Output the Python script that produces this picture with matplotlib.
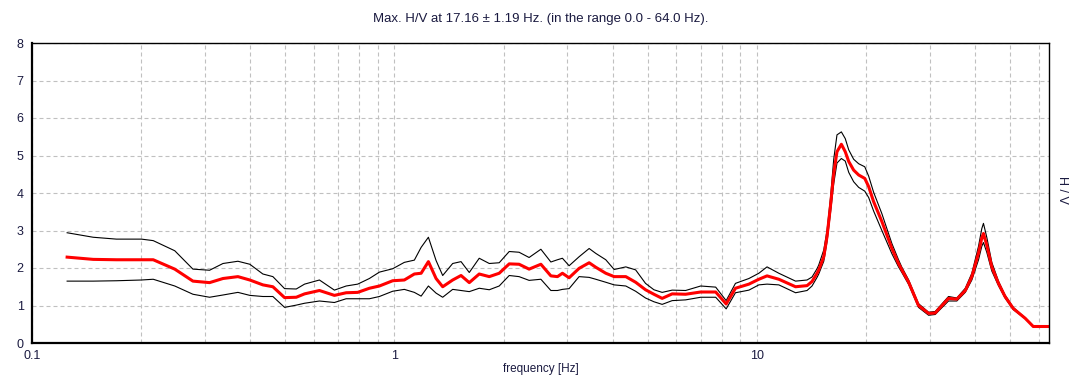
import numpy as np
import matplotlib.pyplot as plt
from matplotlib.ticker import LogLocator, NullFormatter, FixedLocator

# frequency [Hz]
freq = [0.125, 0.1475, 0.171, 0.2005, 0.216, 0.2477, 0.278, 0.309, 0.3365, 0.370,
        0.399, 0.4335, 0.462, 0.4977, 0.536, 0.565, 0.621, 0.683, 0.736, 0.792,
        0.853, 0.909, 0.989, 1.065, 1.135, 1.185, 1.241, 1.303, 1.359, 1.448,
        1.527, 1.609, 1.714, 1.827, 1.946, 2.074, 2.208, 2.353, 2.536, 2.702,
        2.818, 2.908, 3.034, 3.233, 3.446, 3.594, 3.83, 4.04, 4.35, 4.63,
        4.93, 5.20, 5.48, 5.84, 6.36, 7.00, 7.70, 8.23, 8.73, 9.51,
        10.13, 10.67, 11.5, 12.79, 13.76, 14.2, 14.66, 14.82, 15.30, 15.62,
        15.96, 16.30, 16.64, 17.11, 17.54, 17.93, 18.5, 19.10, 19.85, 20.35,
        21.0, 22.13, 23.59, 24.6, 25.13, 26.24, 27.93, 29.78, 31.05, 33.8,
        35.63, 37.6, 39.2, 40.9, 41.76, 42.2, 43.1, 44.5, 46.42, 48.4,
        51.0, 55.0, 57.9, 64.0]

# average H/V
hv_mean = [2.29, 2.23, 2.22, 2.22, 2.22, 1.97, 1.65, 1.61, 1.72, 1.77,
           1.68, 1.55, 1.50, 1.21, 1.22, 1.31, 1.40, 1.27, 1.34, 1.35,
           1.46, 1.52, 1.66, 1.68, 1.84, 1.86, 2.17, 1.72, 1.50, 1.68,
           1.80, 1.61, 1.84, 1.77, 1.86, 2.11, 2.10, 1.97, 2.10, 1.79,
           1.77, 1.86, 1.74, 1.99, 2.14, 2.02, 1.86, 1.77, 1.77, 1.62,
           1.42, 1.30, 1.19, 1.31, 1.30, 1.36, 1.36, 1.04, 1.46, 1.57,
           1.70, 1.79, 1.70, 1.50, 1.53, 1.64, 1.86, 1.95, 2.30, 2.84,
           3.64, 4.52, 5.10, 5.30, 5.10, 4.84, 4.61, 4.48, 4.39, 4.17,
           3.77, 3.24, 2.52, 2.12, 1.95, 1.62, 1.00, 0.79, 0.80, 1.19,
           1.17, 1.40, 1.77, 2.40, 2.80, 2.92, 2.61, 2.03, 1.59, 1.24,
           0.92, 0.66, 0.44, 0.44]

# upper / lower standard deviation curves
hv_upper = [2.94, 2.82, 2.77, 2.77, 2.73, 2.46, 1.97, 1.94, 2.12, 2.18,
            2.10, 1.84, 1.77, 1.45, 1.44, 1.57, 1.68, 1.41, 1.52, 1.57,
            1.72, 1.89, 1.98, 2.15, 2.21, 2.55, 2.82, 2.20, 1.80, 2.12,
            2.17, 1.88, 2.26, 2.12, 2.14, 2.44, 2.42, 2.28, 2.50, 2.16,
            2.22, 2.26, 2.06, 2.30, 2.52, 2.39, 2.22, 1.96, 2.03, 1.95,
            1.59, 1.42, 1.35, 1.41, 1.40, 1.52, 1.49, 1.13, 1.59, 1.72,
            1.86, 2.03, 1.86, 1.65, 1.68, 1.76, 1.98, 2.08, 2.48, 3.00,
            3.85, 4.90, 5.55, 5.63, 5.45, 5.15, 4.90, 4.78, 4.70, 4.45,
            4.02, 3.45, 2.65, 2.22, 2.02, 1.68, 1.05, 0.82, 0.84, 1.24,
            1.20, 1.46, 1.86, 2.58, 3.05, 3.19, 2.82, 2.15, 1.65, 1.28,
            0.95, 0.67, 0.44, 0.44]

hv_lower = [1.65, 1.65, 1.66, 1.68, 1.70, 1.52, 1.30, 1.22, 1.28, 1.35,
            1.27, 1.24, 1.24, 0.95, 1.01, 1.06, 1.12, 1.08, 1.18, 1.18,
            1.18, 1.24, 1.38, 1.43, 1.35, 1.25, 1.52, 1.33, 1.22, 1.43,
            1.40, 1.37, 1.46, 1.42, 1.52, 1.80, 1.77, 1.67, 1.70, 1.40,
            1.40, 1.43, 1.45, 1.77, 1.75, 1.70, 1.62, 1.55, 1.52, 1.38,
            1.20, 1.10, 1.03, 1.13, 1.15, 1.22, 1.22, 0.91, 1.34, 1.41,
            1.55, 1.57, 1.55, 1.34, 1.40, 1.52, 1.75, 1.84, 2.18, 2.70,
            3.45, 4.25, 4.80, 4.92, 4.85, 4.55, 4.30, 4.15, 4.05, 3.88,
            3.52, 3.00, 2.38, 2.03, 1.88, 1.56, 0.95, 0.74, 0.76, 1.12,
            1.12, 1.35, 1.68, 2.22, 2.58, 2.68, 2.42, 1.92, 1.53, 1.20,
            0.89, 0.65, 0.44, 0.44]

plt.rcParams['font.family'] = ['Liberation Sans', 'DejaVu Sans']

fig = plt.figure(figsize=(10.81, 3.87), dpi=100)
ax = fig.add_axes([32 / 1081, 44 / 387, 1017 / 1081, 300 / 387])

ax.plot(freq, hv_upper, color='black', linewidth=0.8)
ax.plot(freq, hv_lower, color='black', linewidth=0.8)
ax.plot(freq, hv_mean, color='red', linewidth=2.2)

ax.set_xscale('log')
ax.set_xlim(0.1, 64)
ax.set_ylim(0, 8)
ax.xaxis.set_major_locator(FixedLocator([0.1, 1, 10]))
ax.set_xticklabels(['0.1', '1', '10'])
ax.xaxis.set_minor_locator(LogLocator(base=10, subs=np.arange(2, 10)))
ax.xaxis.set_minor_formatter(NullFormatter())
ax.set_yticks(range(0, 9))

grid_style = dict(color='#c0c0c0', linewidth=0.8, linestyle=(0, (3.6, 2.7)))
ax.grid(True, which='major', axis='both', **grid_style)
ax.grid(True, which='minor', axis='x', **grid_style)
ax.set_axisbelow(True)

ax.tick_params(which='both', length=0, labelsize=9, colors='#1a1a40')
ax.tick_params(axis='x', pad=5)
ax.tick_params(axis='y', pad=6)
for side in ['left', 'bottom', 'top', 'right']:
    ax.spines[side].set_linewidth(1.0)
    ax.spines[side].set_color('black')
ax.spines['left'].set_linewidth(1.6)
ax.spines['bottom'].set_linewidth(1.6)

ax.set_xlabel('frequency [Hz]', fontsize=8.5, color='#1a1a40', labelpad=1)
ax.set_title('Max. H/V at 17.16 \u00b1 1.19 Hz. (in the range 0.0 - 64.0 Hz).',
             fontsize=9.5, color='#1a1a40', pad=15)
fig.text(1062 / 1081, 1 - 190 / 387, 'H / V', rotation=-90, fontsize=9,
         ha='center', va='center', color='#1a1a40')

fig.savefig('out.png', dpi=100)
